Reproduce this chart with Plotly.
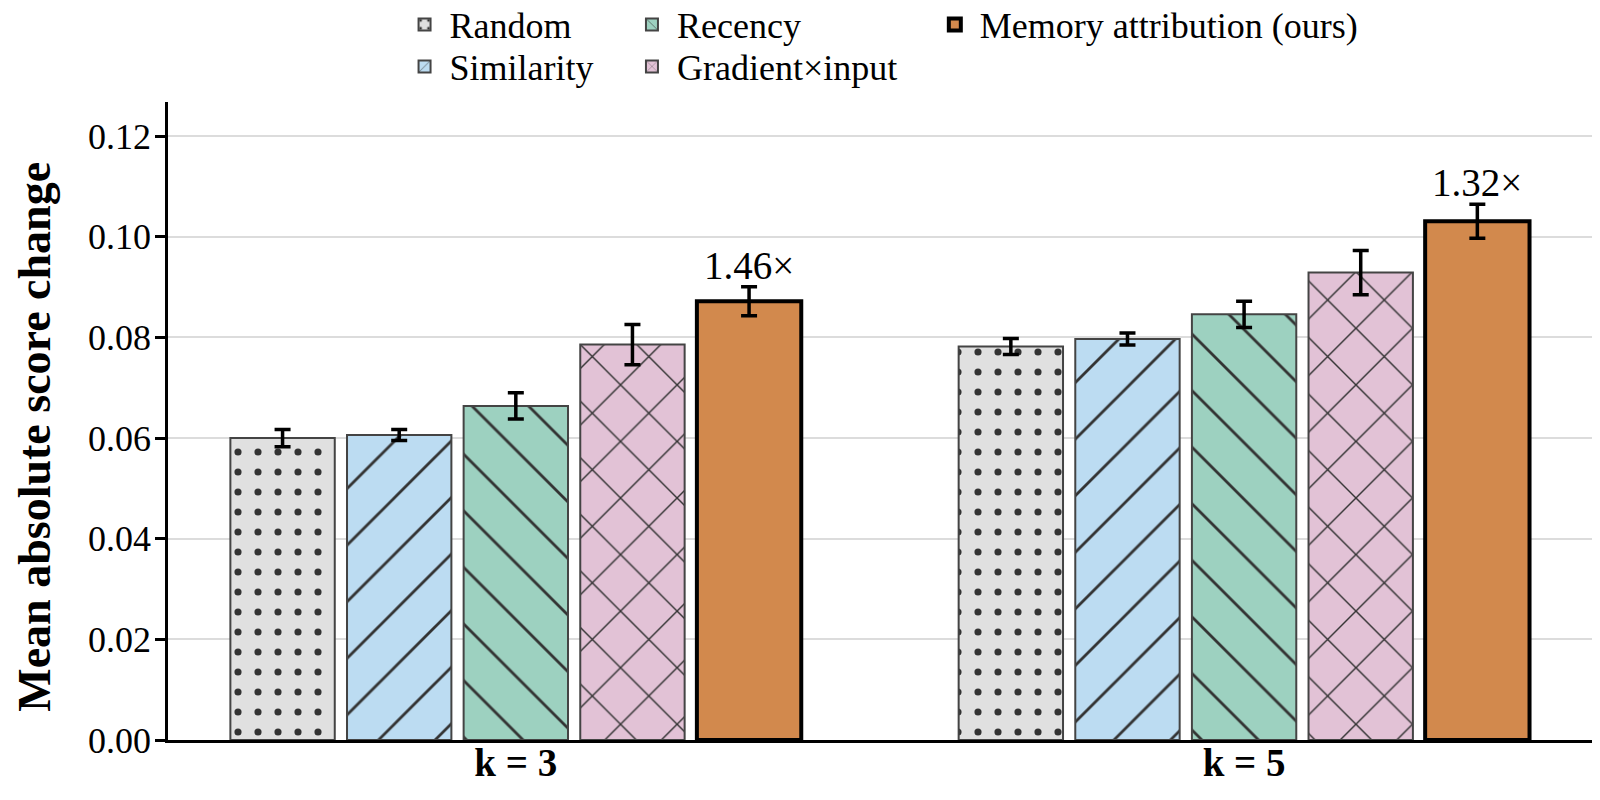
import plotly.graph_objects as go

# 資料
groups = ['k = 3', 'k = 5']
methods = ['Random', 'Similarity', 'Recency', 'Gradient×input', 'Memory attribution (ours)']
means = {
    'Random': [0.0600, 0.0782],
    'Similarity': [0.0606, 0.0797],
    'Recency': [0.0664, 0.0846],
    'Gradient×input': [0.0786, 0.0929],
    'Memory attribution (ours)': [0.0872, 0.1031],
}
errs = {
    'Random': [0.0017, 0.0016],
    'Similarity': [0.0011, 0.0012],
    'Recency': [0.0026, 0.0026],
    'Gradient×input': [0.0040, 0.0044],
    'Memory attribution (ours)': [0.0029, 0.0034],
}
ratios = ['1.46×', '1.32×']

colors = ['#e0e0e0', '#bcdcf2', '#9dd1c0', '#e2c2d6', '#d2894d']
shapes = ['.', '/', '\\', 'x', '']

# 圖例位置 (每個項目一個 legend)
legend_ids = ['legend', 'legend2', 'legend3', 'legend4', 'legend5']
legend_xy = [(0.1617, 1.1215), (0.1617, 1.0556), (0.3205, 1.1215), (0.3205, 1.0556), (0.532, 1.1215)]

fig = go.Figure()
for i, m in enumerate(methods):
    ours = m.startswith('Memory')
    dot = shapes[i] == '.'
    fig.add_trace(go.Bar(
        name=m, x=groups, y=means[m],
        error_y=dict(type='data', array=errs[m], color='black', thickness=3.5, width=8),
        marker=dict(
            color=colors[i],
            line=dict(color='black' if ours else '#444444', width=4 if ours else 2),
            pattern=dict(shape=shapes[i], fgcolor='#333333', bgcolor=colors[i], fgopacity=1,
                         size=20 if dot else 40, solidity=0.1 if dot else 0.07),
        ),
        legend=legend_ids[i],
    ))

# 倍率標註
bargap = 0.1993
slot = (1 - bargap) / 5
for j, g in enumerate(groups):
    m = methods[-1]
    fig.add_annotation(x=j + 2 * slot, y=means[m][j] + errs[m][j], text=ratios[j],
                       showarrow=False, yanchor='bottom', yshift=-2,
                       font=dict(size=39, color='black'))

# y 軸標題
fig.add_annotation(text='<b>Mean absolute score change</b>', textangle=-90,
                   xref='paper', yref='paper', x=-0.093, y=0.475,
                   xanchor='center', yanchor='middle', showarrow=False,
                   font=dict(size=46, color='black'))

legends = {}
for lid, (lx, ly) in zip(legend_ids, legend_xy):
    legends[lid] = dict(orientation='v', bgcolor='rgba(0,0,0,0)', font=dict(size=36, color='black'),
                        x=lx, y=ly, xanchor='left', yanchor='middle', itemwidth=40)

fig.update_layout(
    width=1600, height=800,
    font=dict(family='Liberation Serif', size=37, color='black'),
    plot_bgcolor='white', paper_bgcolor='white',
    showlegend=True,
    barmode='group', bargap=bargap, bargroupgap=0.105,
    margin=dict(l=160, r=8, t=94, b=68, autoexpand=False),
    xaxis=dict(range=[-0.4776, 1.4887], showline=True, linecolor='black', linewidth=2.5,
               tickfont=dict(size=39, family='Liberation Serif'), ticks='', automargin=False,
               ticklabelstandoff=-14,
               tickvals=[0, 1], ticktext=['<b>k = 3</b>', '<b>k = 5</b>']),
    yaxis=dict(range=[0, 0.1268], showline=True, linecolor='black', linewidth=2.5,
               ticks='outside', ticklen=10, tickwidth=2.5, tickcolor='black', automargin=False,
               ticklabelstandoff=-3,
               tickvals=[0, 0.02, 0.04, 0.06, 0.08, 0.10, 0.12],
               tickformat='.2f', tickfont=dict(size=36),
               showgrid=True, gridcolor='#dcdcdc', gridwidth=2, zeroline=False),
    **legends,
)

fig.write_html('out.html')
